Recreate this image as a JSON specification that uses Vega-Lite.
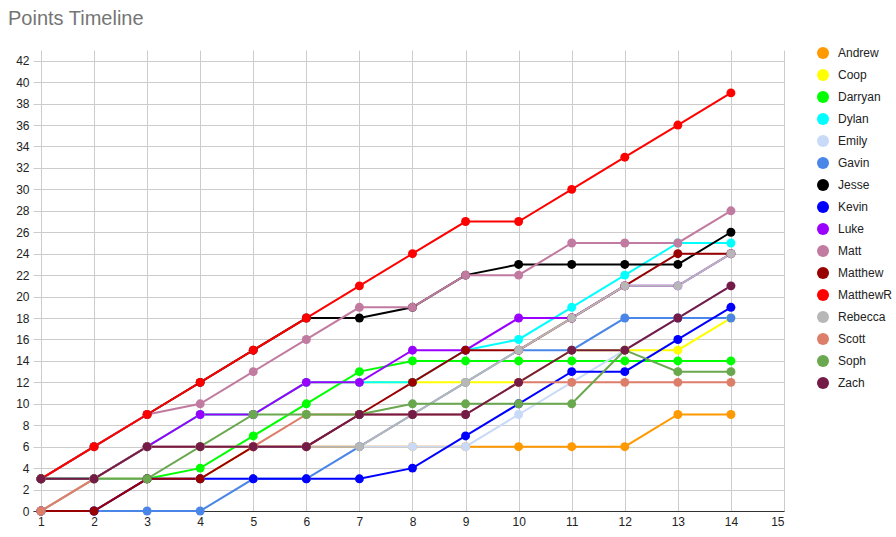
{
  "$schema": "https://vega.github.io/schema/vega-lite/v6.json",
  "width": 751,
  "height": 461,
  "autosize": "none",
  "padding": {"left": 33, "top": 50, "right": 112, "bottom": 26},
  "background": "white",
  "title": {"text": "Points Timeline", "anchor": "start", "frame": "group", "dx": -25, "offset": 18, "fontSize": 20, "font": "Liberation Sans", "fontWeight": "normal", "color": "#757575"},
  "config": {"view": {"stroke": null}, "font": "Liberation Sans"},
  "data": {"values": [
    {"x": 1, "Andrew": 0, "Coop": 3, "Darryan": 3, "Dylan": 3, "Emily": 0, "Gavin": 0, "Jesse": 3, "Kevin": 0, "Luke": 3, "Matt": 3, "Matthew": 0, "MatthewR": 3, "Rebecca": 0, "Scott": 0, "Soph": 3, "Zach": 3},
    {"x": 2, "Andrew": 3, "Coop": 3, "Darryan": 3, "Dylan": 3, "Emily": 3, "Gavin": 0, "Jesse": 6, "Kevin": 0, "Luke": 3, "Matt": 6, "Matthew": 0, "MatthewR": 6, "Rebecca": 3, "Scott": 3, "Soph": 3, "Zach": 3},
    {"x": 3, "Andrew": 3, "Coop": 6, "Darryan": 3, "Dylan": 6, "Emily": 3, "Gavin": 0, "Jesse": 9, "Kevin": 3, "Luke": 6, "Matt": 9, "Matthew": 3, "MatthewR": 9, "Rebecca": 6, "Scott": 6, "Soph": 3, "Zach": 6},
    {"x": 4, "Andrew": 3, "Coop": 9, "Darryan": 4, "Dylan": 9, "Emily": 3, "Gavin": 0, "Jesse": 12, "Kevin": 3, "Luke": 9, "Matt": 10, "Matthew": 3, "MatthewR": 12, "Rebecca": 6, "Scott": 6, "Soph": 6, "Zach": 6},
    {"x": 5, "Andrew": 6, "Coop": 9, "Darryan": 7, "Dylan": 9, "Emily": 3, "Gavin": 3, "Jesse": 15, "Kevin": 3, "Luke": 9, "Matt": 13, "Matthew": 6, "MatthewR": 15, "Rebecca": 6, "Scott": 6, "Soph": 9, "Zach": 6},
    {"x": 6, "Andrew": 6, "Coop": 12, "Darryan": 10, "Dylan": 12, "Emily": 3, "Gavin": 3, "Jesse": 18, "Kevin": 3, "Luke": 12, "Matt": 16, "Matthew": 6, "MatthewR": 18, "Rebecca": 6, "Scott": 9, "Soph": 9, "Zach": 6},
    {"x": 7, "Andrew": 6, "Coop": 12, "Darryan": 13, "Dylan": 12, "Emily": 6, "Gavin": 6, "Jesse": 18, "Kevin": 3, "Luke": 12, "Matt": 19, "Matthew": 9, "MatthewR": 21, "Rebecca": 6, "Scott": 9, "Soph": 9, "Zach": 9},
    {"x": 8, "Andrew": 6, "Coop": 12, "Darryan": 14, "Dylan": 12, "Emily": 6, "Gavin": 9, "Jesse": 19, "Kevin": 4, "Luke": 15, "Matt": 19, "Matthew": 12, "MatthewR": 24, "Rebecca": 9, "Scott": 9, "Soph": 10, "Zach": 9},
    {"x": 9, "Andrew": 6, "Coop": 12, "Darryan": 14, "Dylan": 15, "Emily": 6, "Gavin": 12, "Jesse": 22, "Kevin": 7, "Luke": 15, "Matt": 22, "Matthew": 15, "MatthewR": 27, "Rebecca": 12, "Scott": 9, "Soph": 10, "Zach": 9},
    {"x": 10, "Andrew": 6, "Coop": 12, "Darryan": 14, "Dylan": 16, "Emily": 9, "Gavin": 15, "Jesse": 23, "Kevin": 10, "Luke": 18, "Matt": 22, "Matthew": 15, "MatthewR": 27, "Rebecca": 15, "Scott": 12, "Soph": 10, "Zach": 12},
    {"x": 11, "Andrew": 6, "Coop": 15, "Darryan": 14, "Dylan": 19, "Emily": 12, "Gavin": 15, "Jesse": 23, "Kevin": 13, "Luke": 18, "Matt": 25, "Matthew": 18, "MatthewR": 30, "Rebecca": 18, "Scott": 12, "Soph": 10, "Zach": 15},
    {"x": 12, "Andrew": 6, "Coop": 15, "Darryan": 14, "Dylan": 22, "Emily": 15, "Gavin": 18, "Jesse": 23, "Kevin": 13, "Luke": 21, "Matt": 25, "Matthew": 21, "MatthewR": 33, "Rebecca": 21, "Scott": 12, "Soph": 15, "Zach": 15},
    {"x": 13, "Andrew": 9, "Coop": 15, "Darryan": 14, "Dylan": 25, "Emily": 18, "Gavin": 18, "Jesse": 23, "Kevin": 16, "Luke": 21, "Matt": 25, "Matthew": 24, "MatthewR": 36, "Rebecca": 21, "Scott": 12, "Soph": 13, "Zach": 18},
    {"x": 14, "Andrew": 9, "Coop": 18, "Darryan": 14, "Dylan": 25, "Emily": 21, "Gavin": 18, "Jesse": 26, "Kevin": 19, "Luke": 24, "Matt": 28, "Matthew": 24, "MatthewR": 39, "Rebecca": 24, "Scott": 12, "Soph": 13, "Zach": 21}
  ]},
  "transform": [
    {"fold": ["Andrew", "Coop", "Darryan", "Dylan", "Emily", "Gavin", "Jesse", "Kevin", "Luke", "Matt", "Matthew", "MatthewR", "Rebecca", "Scott", "Soph", "Zach"], "as": ["name", "points"]}
  ],
  "encoding": {
    "x": {"field": "x", "type": "quantitative",
      "scale": {"domain": [0.85, 15], "nice": false, "zero": false},
      "axis": {"title": null, "values": [1,2,3,4,5,6,7,8,9,10,11,12,13,14,15], "grid": true, "gridColor": "#cccccc", "domainColor": "#333333", "domainWidth": 1, "ticks": false, "labelFontSize": 12, "labelColor": "#222222", "labelPadding": 5, "labelFont": "Liberation Sans"}},
    "y": {"field": "points", "type": "quantitative",
      "scale": {"domain": [0, 43], "nice": false},
      "axis": {"title": null, "values": [0,2,4,6,8,10,12,14,16,18,20,22,24,26,28,30,32,34,36,38,40,42], "grid": true, "gridColor": "#cccccc", "domain": false, "ticks": false, "labelFontSize": 12, "labelColor": "#222222", "labelPadding": 4, "labelFont": "Liberation Sans"}},
    "color": {"field": "name", "type": "nominal",
      "scale": {"domain": ["Andrew", "Coop", "Darryan", "Dylan", "Emily", "Gavin", "Jesse", "Kevin", "Luke", "Matt", "Matthew", "MatthewR", "Rebecca", "Scott", "Soph", "Zach"],
        "range": ["#ff9900", "#ffff00", "#00ff00", "#00ffff", "#c9daf8", "#4a86e8", "#000000", "#0000ff", "#9900ff", "#c27ba0", "#990000", "#ff0000", "#b7b7b7", "#dd7e6b", "#6aa84f", "#741b47"]},
      "legend": {"title": null, "orient": "none", "legendX": 784, "legendY": -3, "symbolType": "circle", "symbolSize": 144, "symbolStrokeWidth": 0, "symbolOpacity": 1, "labelFontSize": 12, "labelColor": "#222222", "labelFont": "Liberation Sans", "rowPadding": 10, "labelOffset": 9}}
  },
  "layer": [
    {"mark": {"type": "line", "strokeWidth": 2}},
    {"mark": {"type": "point", "filled": true, "size": 80, "opacity": 1}}
  ]
}
